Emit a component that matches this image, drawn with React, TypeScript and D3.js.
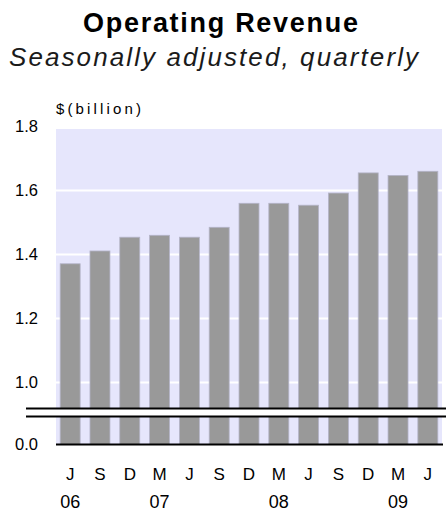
import React from 'react';
import * as d3 from 'd3';

// Quarterly operating revenue, $ billion
const quarters = ['J', 'S', 'D', 'M', 'J', 'S', 'D', 'M', 'J', 'S', 'D', 'M', 'J'];
const years = ['06', '', '', '07', '', '', '', '08', '', '', '', '09', ''];
const revenue = [1.371, 1.411, 1.454, 1.46, 1.454, 1.485, 1.56, 1.56, 1.554, 1.592, 1.655, 1.647, 1.66];
const yTickValues = [0, 1.0, 1.2, 1.4, 1.6, 1.8];
const gridValues = [1.0, 1.2, 1.4, 1.6];

const W = 446;
const H = 511;
const plot = { left: 56, right: 442, top: 129, bottom: 444.5 };
const font = 'Arial, "Liberation Sans", Helvetica, sans-serif';

export default function App() {
  const ids = quarters.map((_, i) => String(i));

  const x = d3.scaleBand<string>()
    .domain(ids)
    .range([plot.left, plot.right])
    .paddingInner(0.33)
    .paddingOuter(0.14);

  // broken axis: 0 sits at the baseline, 1.0 - 1.8 is the real scale
  const y = d3.scaleLinear()
    .domain([0, 1.0, 1.8])
    .range([plot.bottom, 382.5, 126.5]);

  const breakTop = y(1.0) + 26;
  const breakBottom = breakTop + 8;

  return (
    <svg width={W} height={H} style={{ position: 'absolute', left: 0, top: 0 }} fontFamily={font}>
      <rect width={W} height={H} fill="#ffffff" />

      <text x={220.5} y={32} textAnchor="middle" fontSize={27} fontWeight="bold" fill="#000"
        textLength={275} lengthAdjust="spacing">Operating Revenue</text>
      <text x={213.5} y={66} textAnchor="middle" fontSize={26} fontStyle="italic" fill="#1a1a1a"
        textLength={409} lengthAdjust="spacing">Seasonally adjusted, quarterly</text>
      <text x={56} y={114} fontSize={15} fill="#000" textLength={85} lengthAdjust="spacing">$(billion)</text>

      <rect x={plot.left} y={plot.top} width={plot.right - plot.left} height={plot.bottom - plot.top} fill="#e6e6fc" />

      {gridValues.map(v => (
        <line key={v} x1={plot.left} x2={plot.right} y1={y(v)} y2={y(v)} stroke="#ffffff" strokeWidth={2} />
      ))}

      {revenue.map((v, i) => (
        <rect key={i}
          x={x(ids[i])!}
          y={y(v)}
          width={x.bandwidth()}
          height={y(0) - y(v)}
          fill="#999999"
          stroke="#b4b4c8"
          strokeWidth={0.8} />
      ))}

      {/* axis break */}
      <rect x={26} y={breakTop} width={W - 26} height={breakBottom - breakTop} fill="#ffffff" />
      <line x1={26} x2={W} y1={breakTop} y2={breakTop} stroke="#000" strokeWidth={2} />
      <line x1={26} x2={W} y1={breakBottom} y2={breakBottom} stroke="#000" strokeWidth={2} />

      <line x1={plot.left} x2={443} y1={y(0)} y2={y(0)} stroke="#000" strokeWidth={2} />

      {yTickValues.map(v => (
        <text key={v} x={38} y={y(v)} dy="0.36em" textAnchor="end" fontSize={16.5} fill="#000">
          {v.toFixed(1)}
        </text>
      ))}

      {quarters.map((q, i) => (
        <text key={i} x={x(ids[i])! + x.bandwidth() / 2} y={480} textAnchor="middle" fontSize={17} fill="#000">
          {q}
        </text>
      ))}
      {years.map((yr, i) => yr ? (
        <text key={i} x={x(ids[i])! + x.bandwidth() / 2} y={507.5} textAnchor="middle" fontSize={18} fill="#000">
          {yr}
        </text>
      ) : null)}
    </svg>
  );
}
